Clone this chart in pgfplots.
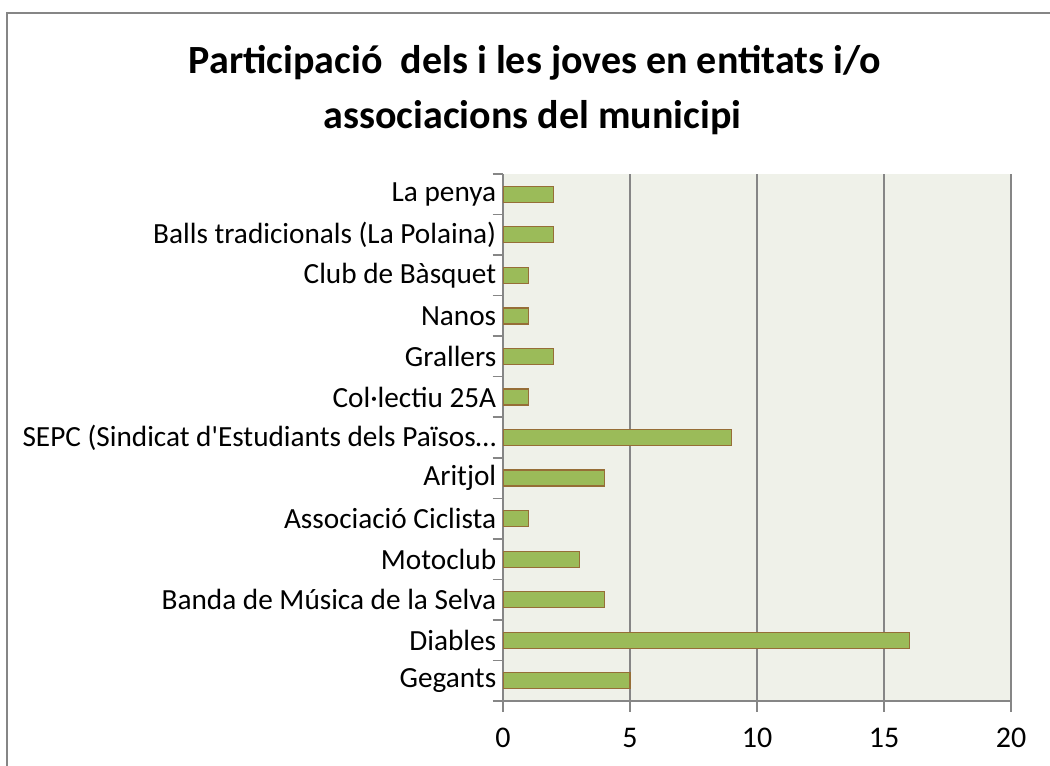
\documentclass[border=0pt]{standalone}
\usepackage{fontspec}
\setmainfont{Carlito}[Numbers=Lining]
\usepackage{pgfplots}
\pgfplotsset{compat=1.18}
\definecolor{barfill}{RGB}{155,187,89}
\definecolor{barline}{RGB}{150,110,55}
\definecolor{plotbg}{RGB}{239,241,233}
\definecolor{gridc}{RGB}{134,134,134}
\begin{document}
\begin{tikzpicture}
\path[use as bounding box] (0,0) rectangle (420pt,-306pt);
\begin{scope}
\clip (0,0) rectangle (420pt,-306pt);
\draw[gridc, line width=0.6pt] (2.8pt,-330pt) -- (2.8pt,-5.2pt) -- (440pt,-5.2pt);
\end{scope}
\node[anchor=base, font=\bfseries\fontsize{16}{19}\selectfont, inner sep=0pt] at (214pt,-29.5pt) {Participació\ \ dels i les joves en entitats i/o};
\node[anchor=base, font=\bfseries\fontsize{16}{19}\selectfont, inner sep=0pt] at (213pt,-51.5pt) {associacions del municipi};
\begin{axis}[
  at={(201.2pt,-280.4pt)}, anchor=south west,
  scale only axis, width=203.2pt, height=210.8pt,
  xbar, bar width=6.4pt,
  xmin=0, xmax=20, ymin=-0.5, ymax=12.5,
  xtick={0,5,10,15,20},
  ytick={0,...,12},
  yticklabels={Gegants, Diables, Banda de Música de la Selva, Motoclub, Associació Ciclista, Aritjol, SEPC (Sindicat d\textquotesingle Estudiants dels Països…, Col·lectiu 25A, Grallers, Nanos, Club de Bàsquet, Balls tradicionals (La Polaina), La penya},
  axis x line*=bottom, axis y line*=left,
  axis line style={gridc, line width=0.6pt, -},
  xmajorgrids, major grid style={gridc, line width=0.6pt},
  axis background/.style={fill=plotbg},
  tick align=outside,
  major tick length=4.2pt,
  xtick style={gridc, line width=0.6pt},
  ytick style={draw=none},
  extra y ticks={-0.5,0.5,...,12.5},
  extra y tick labels={},
  extra y tick style={grid=none, ytick style={draw=gridc, line width=0.6pt}},
  /pgf/number format/assume math mode=true,
  yticklabel style={font=\fontsize{11.7}{13.5}\selectfont, xshift=5pt},
  xticklabel style={font=\fontsize{12}{14}\selectfont, yshift=-3pt},
]
\addplot[fill=barfill, draw=barline, line width=0.5pt] coordinates {(5,0) (16,1) (4,2) (3,3) (1,4) (4,5) (9,6) (1,7) (2,8) (1,9) (1,10) (2,11) (2,12)};
\end{axis}
\end{tikzpicture}
\end{document}
